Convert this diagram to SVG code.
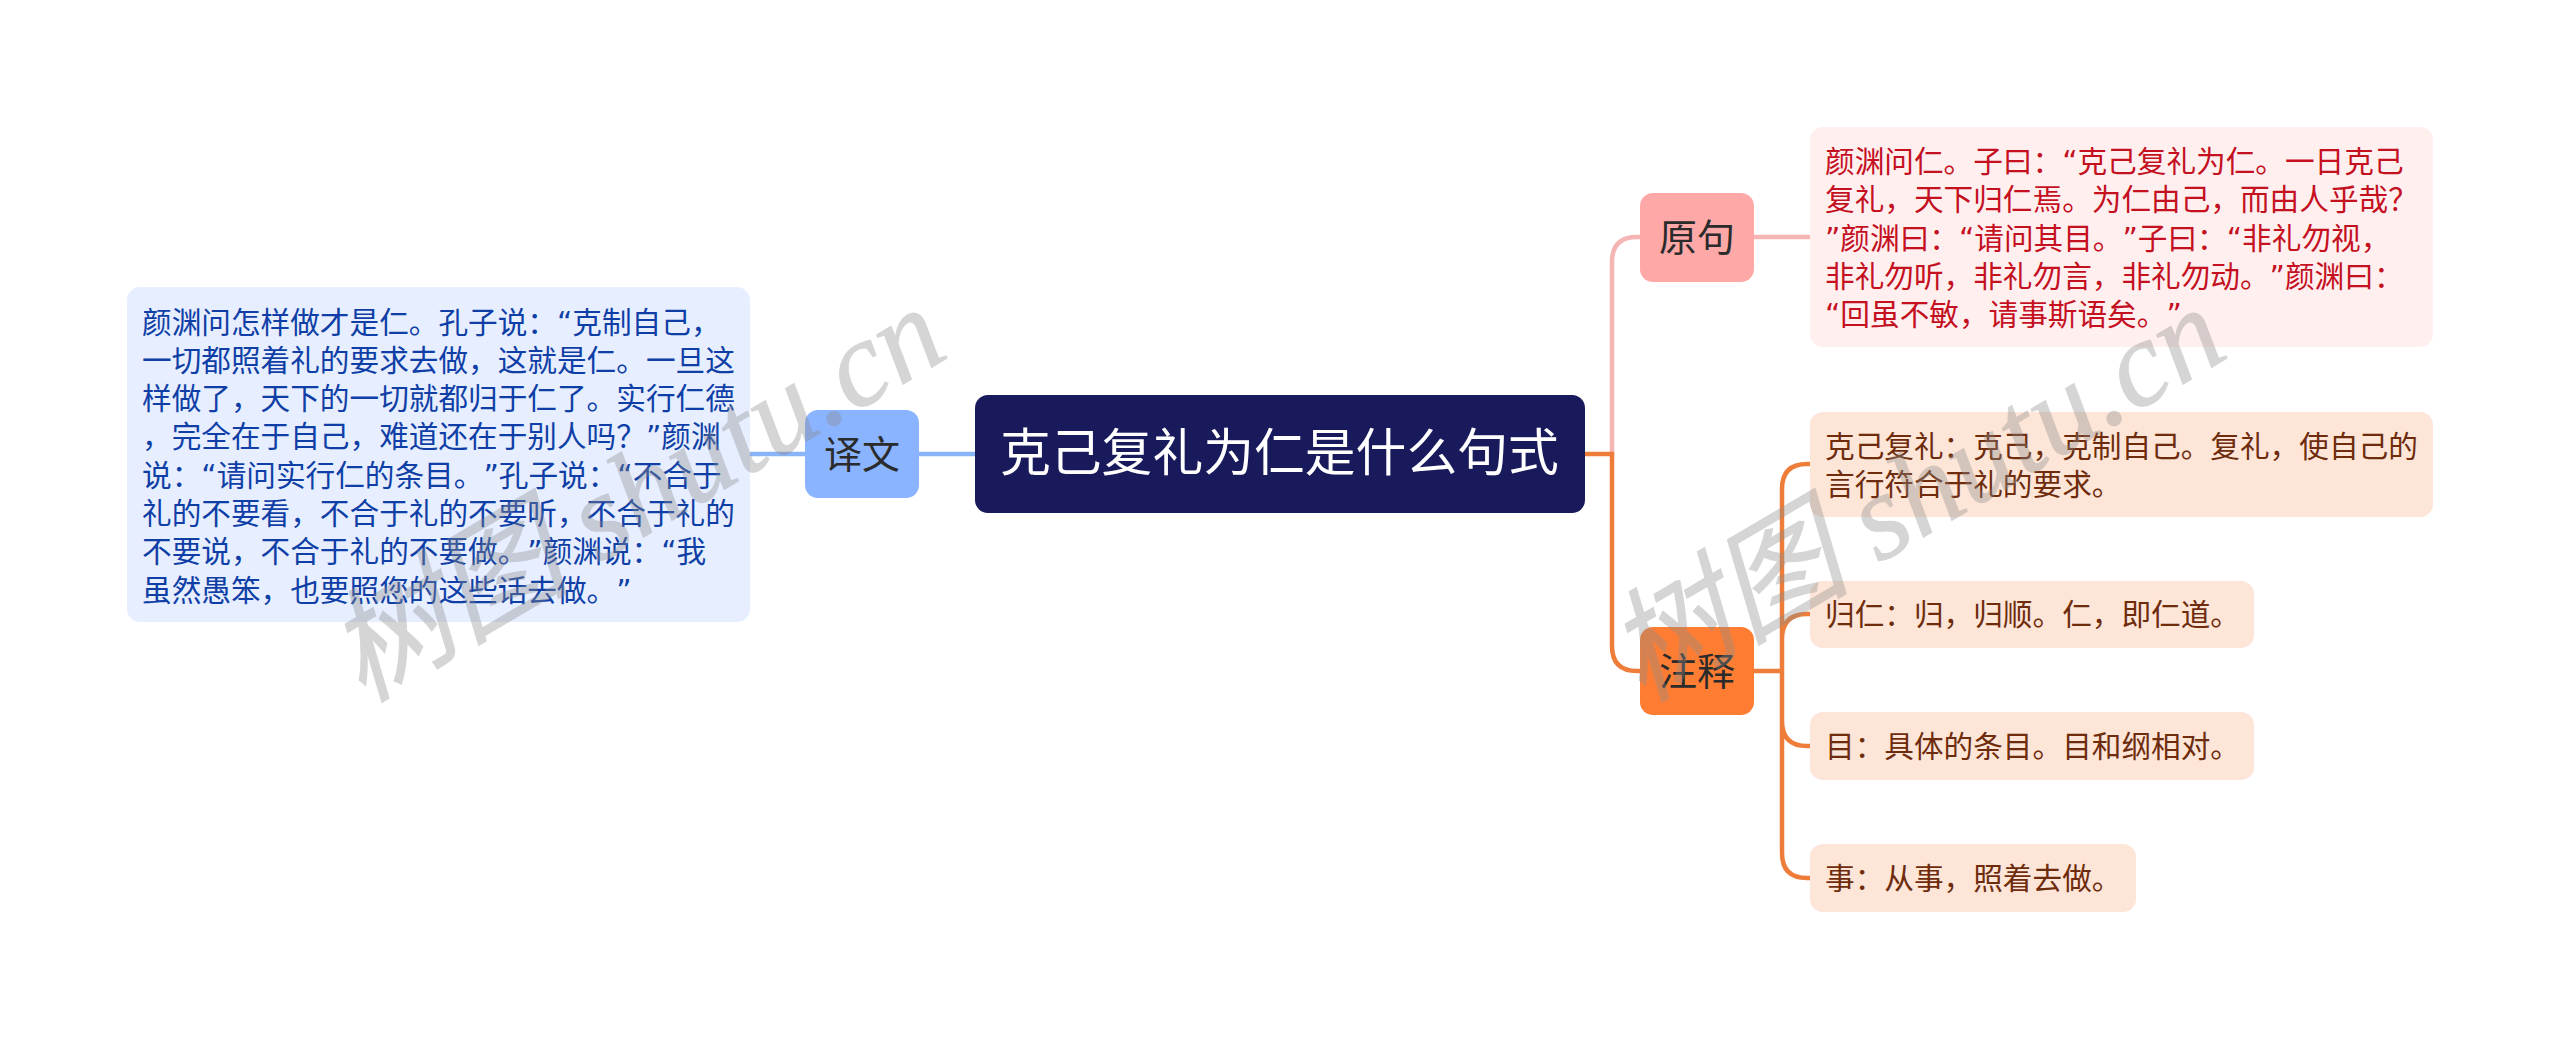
<svg xmlns="http://www.w3.org/2000/svg" width="2560" height="1039" viewBox="0 0 2560 1039">
<style>
text{font-family:"DejaVu Sans","Noto Sans CJK SC",sans-serif;text-spacing-trim:space-all}
.t{font-size:29.650px}
.c{fill:none;stroke-width:4.500}
.blue{fill:#0f3fa6}.red{fill:#c4101f}.brown{fill:#6e2c0c}
.topic{font-size:38px;fill:#2b2b2b;text-anchor:middle}
.wm{font-family:"Liberation Serif","Noto Sans CJK SC",serif;font-style:italic;font-size:122px;fill:#8c8c8c;stroke:#8c8c8c;stroke-width:1;opacity:.36}
</style>
<rect width="2560" height="1039" fill="#fff"/>
<g id="connectors">
<path class="c" stroke="#8ab4f8" d="M975 454H919M805 454H750"/>
<path class="c" stroke="#f5b5b5" d="M1612 454V262Q1612 237 1637 237H1640M1754 237H1810"/>
<path class="c" stroke="#ee7d3a" d="M1585 454H1612V646Q1612 671 1637 671H1640M1754 671H1782M1810 464H1807Q1782 464 1782 489V853Q1782 878 1807 878H1810M1782 639Q1782 614 1807 614H1810M1782 721Q1782 746 1807 746H1810"/>
</g>
<g id="root"><rect x="975" y="395" width="610" height="118" rx="13" fill="#191a5c"/><text x="1000" y="471" font-size="50.800" fill="#fff">克己复礼为仁是什么句式</text></g>
<g id="yiwen"><rect x="805" y="410" width="114" height="88" rx="13" fill="#8ab4ff"/><text class="topic" x="862" y="468">译文</text></g>
<g id="yiwen-text"><rect x="127" y="287" width="623" height="335" rx="13" fill="#e6eeff"/>
<text class="t blue"><tspan x="142" y="332.500">颜渊问怎样做才是仁。孔子说：“克制自己，</tspan><tspan x="142" y="370.800">一切都照着礼的要求去做，这就是仁。一旦这</tspan><tspan x="142" y="409.100">样做了，天下的一切就都归于仁了。实行仁德</tspan><tspan x="142" y="447.400">，完全在于自己，难道还在于别人吗？”颜渊</tspan><tspan x="142" y="485.700">说：“请问实行仁的条目。”孔子说：“不合于</tspan><tspan x="142" y="524">礼的不要看，不合于礼的不要听，不合于礼的</tspan><tspan x="142" y="562.300">不要说，不合于礼的不要做。”颜渊说：“我</tspan><tspan x="142" y="600.600">虽然愚笨，也要照您的这些话去做。”</tspan></text></g>
<g id="yuanju"><rect x="1640" y="193" width="114" height="89" rx="13" fill="#ffa8a8"/><text class="topic" x="1697" y="251">原句</text></g>
<g id="yuanju-text"><rect x="1810" y="127" width="623" height="220" rx="13" fill="#ffefef"/>
<text class="t red"><tspan x="1825" y="172">颜渊问仁。子曰：“克己复礼为仁。一日克己</tspan><tspan x="1825" y="210.300">复礼，天下归仁焉。为仁由己，而由人乎哉？</tspan><tspan x="1825" y="248.600">”颜渊曰：“请问其目。”子曰：“非礼勿视，</tspan><tspan x="1825" y="286.900">非礼勿听，非礼勿言，非礼勿动。”颜渊曰：</tspan><tspan x="1825" y="325.200">“回虽不敏，请事斯语矣。”</tspan></text></g>
<g id="zhushi"><rect x="1640" y="627" width="114" height="88" rx="13" fill="#ff7d33"/><text class="topic" x="1697" y="685">注释</text></g>
<g id="note1"><rect x="1810" y="412" width="623" height="105" rx="13" fill="#fde5d8"/><text class="t brown"><tspan x="1825" y="457">克己复礼：克己，克制自己。复礼，使自己的</tspan><tspan x="1825" y="495.300">言行符合于礼的要求。</tspan></text></g>
<g id="note2"><rect x="1810" y="581" width="444" height="67" rx="13" fill="#fde5d8"/><text class="t brown" x="1825" y="625">归仁：归，归顺。仁，即仁道。</text></g>
<g id="note3"><rect x="1810" y="712" width="444" height="68" rx="13" fill="#fde5d8"/><text class="t brown" x="1825" y="757">目：具体的条目。目和纲相对。</text></g>
<g id="note4"><rect x="1810" y="844" width="326" height="68" rx="13" fill="#fde5d8"/><text class="t brown" x="1825" y="889">事：从事，照着去做。</text></g>
<g id="watermark"><text class="wm" transform="translate(362 703) rotate(-30.500)">树图 shutu.cn</text><text class="wm" transform="translate(1642 703) rotate(-30.500)">树图 shutu.cn</text></g>
</svg>
